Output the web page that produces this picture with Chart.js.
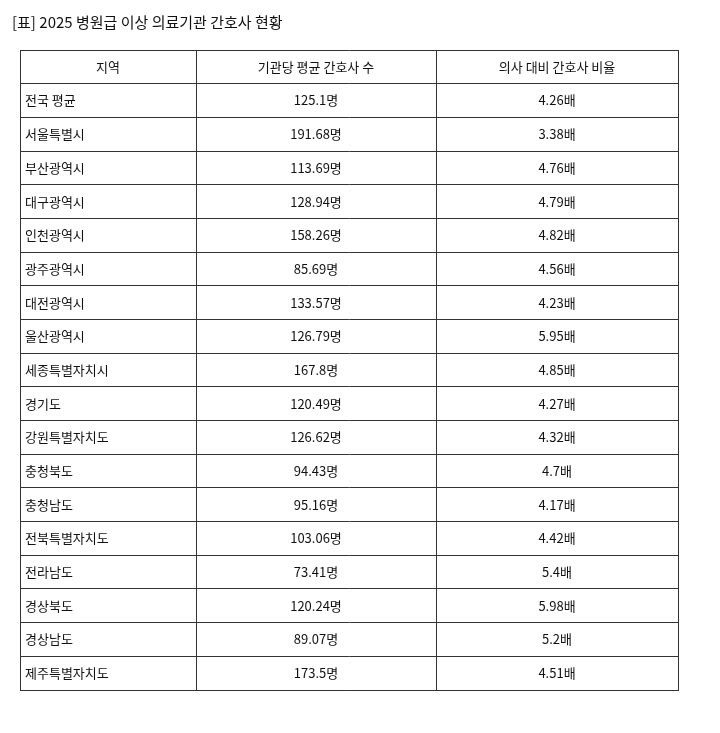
<!DOCTYPE html>
<html>
<head>
<meta charset="utf-8">
<script src="https://cdn.jsdelivr.net/npm/chart.js@4/dist/chart.umd.min.js"></script>
<style>
  body { margin: 0; background: #fff; }
  #wrap { width: 720px; height: 733px; }
</style>
</head>
<body>
<div id="wrap"><canvas id="tbl"></canvas></div>
<script>
const titleText = "[표] 2025 병원급 이상 의료기관 간호사 현황";
const headers = ["지역", "기관당 평균 간호사 수", "의사 대비 간호사 비율"];
const regions = ["전국 평균", "서울특별시", "부산광역시", "대구광역시", "인천광역시", "광주광역시",
  "대전광역시", "울산광역시", "세종특별자치시", "경기도", "강원특별자치도", "충청북도",
  "충청남도", "전북특별자치도", "전라남도", "경상북도", "경상남도", "제주특별자치도"];
const nurses = ["125.1", "191.68", "113.69", "128.94", "158.26", "85.69", "133.57", "126.79",
  "167.8", "120.49", "126.62", "94.43", "95.16", "103.06", "73.41", "120.24", "89.07", "173.5"];
const ratios = ["4.26", "3.38", "4.76", "4.79", "4.82", "4.56", "4.23", "5.95", "4.85",
  "4.27", "4.32", "4.7", "4.17", "4.42", "5.4", "5.98", "5.2", "4.51"];
// column boundaries in table units
const colEdges = [0, 176, 416, 658];

const FONT = "'Noto Sans CJK KR', 'Noto Sans', sans-serif";

const tablePlugin = {
  id: "tableText",
  afterDraw(chart) {
    const ctx = chart.ctx;
    const x = chart.scales.x, y = chart.scales.y;
    ctx.save();
    ctx.fillStyle = "#111";
    ctx.textBaseline = "middle";
    ctx.font = "15px " + FONT;
    ctx.textAlign = "left";
    ctx.fillText(titleText, 12, 22);

    ctx.font = "13px " + FONT;
    const cx = i => (x.getPixelForValue(colEdges[i]) + x.getPixelForValue(colEdges[i + 1])) / 2;
    const cy = r => (y.getPixelForValue(r) + y.getPixelForValue(r + 1)) / 2;
    ctx.textAlign = "center";
    headers.forEach((h, i) => ctx.fillText(h, cx(i), cy(0)));
    regions.forEach((r, i) => {
      ctx.textAlign = "left";
      ctx.fillText(r, x.getPixelForValue(colEdges[0]) + 5, cy(i + 1));
      ctx.textAlign = "center";
      ctx.fillText(nurses[i] + "명", cx(1), cy(i + 1));
      ctx.fillText(ratios[i] + "배", cx(2), cy(i + 1));
    });
    ctx.restore();
  }
};

new Chart(document.getElementById("tbl"), {
  type: "scatter",
  data: { datasets: [{ data: [] }] },
  options: {
    responsive: true,
    maintainAspectRatio: false,
    animation: false,
    layout: { padding: { left: 20, right: 42, top: 50, bottom: 43 } },
    plugins: { legend: { display: false }, tooltip: { enabled: false } },
    scales: {
      x: {
        type: "linear", min: 0, max: 658,
        afterBuildTicks: s => { s.ticks = colEdges.map(v => ({ value: v })); },
        ticks: { display: false },
        grid: { color: "#333", lineWidth: 1, drawTicks: false },
        border: { color: "#333" }
      },
      y: {
        type: "linear", min: 0, max: regions.length + 1, reverse: true,
        afterBuildTicks: s => { s.ticks = Array.from({ length: regions.length + 2 }, (_, i) => ({ value: i })); },
        ticks: { display: false },
        grid: { color: "#333", lineWidth: 1, drawTicks: false },
        border: { color: "#333" }
      }
    }
  },
  plugins: [tablePlugin]
});
</script>
</body>
</html>
